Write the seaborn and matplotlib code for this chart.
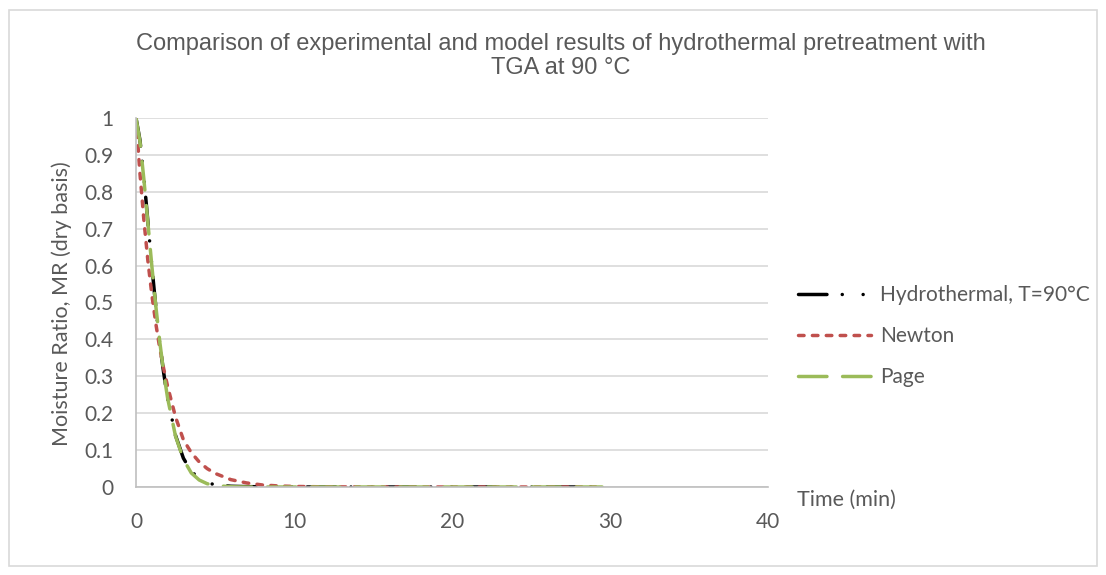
import matplotlib
matplotlib.use("Agg")
import matplotlib.pyplot as plt
from matplotlib.patches import Rectangle
import seaborn as sns
import pandas as pd

# values
time_min = [0, 0.25, 0.5, 0.75, 1, 1.25, 1.5, 1.75, 2, 2.5, 3, 3.5, 4, 4.5, 5,
            6, 7, 8, 9, 10, 12, 15, 20, 25, 29.5]
mr_hydro = [1.0, 0.94, 0.84, 0.72, 0.60, 0.49, 0.39, 0.31, 0.24, 0.14, 0.078, 0.042,
            0.024, 0.012, 0.006, 0.002, 0.001, 0.0005, 0, 0, 0, 0, 0, 0, 0]
mr_newton = [1.0, 0.85, 0.723, 0.614, 0.522, 0.444, 0.377, 0.321, 0.273, 0.19, 0.128,
             0.093, 0.068, 0.05, 0.037, 0.02, 0.011, 0.0055, 0.0029, 0.0015, 0.0004,
             0.0001, 0, 0, 0]
mr_page = [1.0, 0.937, 0.833, 0.717, 0.600, 0.492, 0.395, 0.311, 0.241, 0.138, 0.075,
           0.038, 0.019, 0.009, 0.004, 0.0007, 0.0001, 0, 0, 0, 0, 0, 0, 0, 0]
series_names = ["Hydrothermal, T=90°C", "Newton", "Page"]
x_ticks = [0, 10, 20, 30, 40]
y_ticks = [0, 0.1, 0.2, 0.3, 0.4, 0.5, 0.6, 0.7, 0.8, 0.9, 1]

frames = []
for name, vals in zip(series_names, [mr_hydro, mr_newton, mr_page]):
    frames.append(pd.DataFrame({"Time": time_min, "MR": vals, "Series": name}))
df = pd.concat(frames, ignore_index=True)

sns.set_theme(style="white")
plt.rcParams['font.family'] = ['Lato', 'DejaVu Sans']
txt = '#595959'

fig = plt.figure(figsize=(11.06, 5.75), dpi=100)
ax = fig.add_axes([136/1106, 1-487/575, (768-136)/1106, (487-118)/575])

palette = {series_names[0]: 'black', series_names[1]: '#C0504D', series_names[2]: '#9BBB59'}
dashes = {series_names[0]: (8.2, 4.4, 0.01, 6, 0.01, 4.4),
          series_names[1]: (1.6, 2.4),
          series_names[2]: (8.2, 4.5)}
sns.lineplot(data=df, x="Time", y="MR", hue="Series", style="Series",
             hue_order=series_names, style_order=series_names,
             palette=palette, dashes=dashes, linewidth=2.5,
             dash_capstyle='round', ax=ax)

ax.set_xlim(0, 40)
ax.set_ylim(0, 1)
ax.set_xticks(x_ticks)
ax.set_xticklabels([str(v) for v in x_ticks])
ax.set_yticks(y_ticks)
ax.set_yticklabels(['0', '0.1', '0.2', '0.3', '0.4', '0.5', '0.6', '0.7', '0.8', '0.9', '1'])
ax.tick_params(axis='x', length=0, pad=18, labelsize=15, labelcolor=txt)
ax.tick_params(axis='y', length=0, pad=16, labelsize=15, labelcolor=txt)
ax.yaxis.grid(True, color='#D9D9D9', linewidth=1.2)
ax.xaxis.grid(False)
for s in ['top', 'right']:
    ax.spines[s].set_visible(False)
for s in ['left', 'bottom']:
    ax.spines[s].set_color('#BFBFBF')
    ax.spines[s].set_linewidth(1.2)
ax.set_xlabel('')
ax.set_ylabel('')

sns.move_legend(ax, 'center left', bbox_to_anchor=(798/1106, 1-336/575),
                bbox_transform=fig.transFigure, frameon=False, title=None,
                fontsize=15, handlelength=3.5, handletextpad=0.45,
                labelspacing=1.0, borderpad=0, borderaxespad=0)
for t in ax.get_legend().get_texts():
    t.set_color(txt)

fig.text(561/1106, 1-56/575,
         'Comparison of experimental and model results of hydrothermal pretreatment with\nTGA at 90 °C',
         ha='center', va='center', fontsize=17, color=txt, family=['Liberation Sans', 'DejaVu Sans'],
         linespacing=1.08)
fig.text(62/1106, 1-304/575, 'Moisture Ratio, MR (dry basis)', rotation=90,
         ha='center', va='center', fontsize=15.5, color=txt)
fig.text(797/1106, 1-500/575, 'Time (min)', ha='left', va='center', fontsize=15.5, color=txt)

fig.patches.append(Rectangle((9/1106, 1-566/575), (1097-9)/1106, (566-10)/575,
                             transform=fig.transFigure, fill=False,
                             edgecolor='#D9D9D9', linewidth=1.2))

fig.savefig('out.png', dpi=100)
